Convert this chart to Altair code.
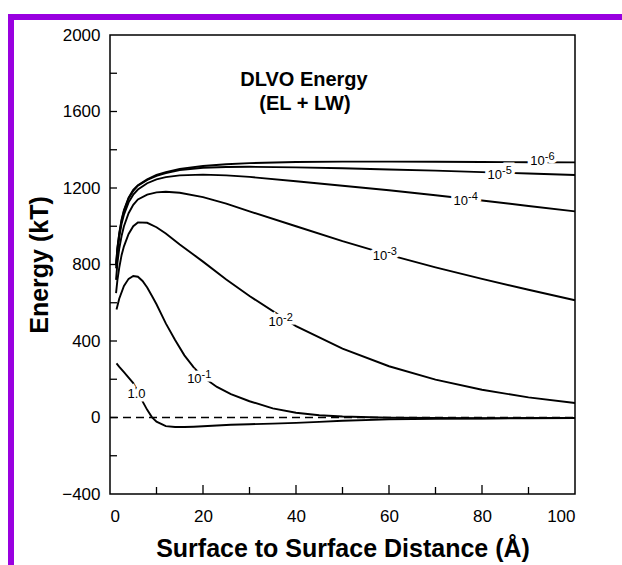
import altair as alt
import pandas as pd

# ---------------- data ----------------
distance_main = [1.3, 1.6, 2, 2.5, 3, 4, 5, 6, 8, 10, 12, 15, 20, 25, 30, 40, 50, 60, 70, 80, 90, 100]
energy_1e6 = [800, 890, 965, 1035, 1085, 1150, 1190, 1215, 1245, 1268, 1283, 1300, 1315, 1324, 1330, 1336, 1338, 1338, 1337, 1336, 1335, 1334]
energy_1e5 = [795, 885, 960, 1030, 1080, 1145, 1185, 1212, 1242, 1264, 1278, 1294, 1306, 1310, 1311, 1308, 1303, 1297, 1291, 1283, 1276, 1268]
energy_1e4 = [780, 870, 945, 1015, 1060, 1125, 1165, 1192, 1225, 1245, 1257, 1266, 1270, 1266, 1258, 1235, 1212, 1188, 1162, 1135, 1106, 1078]
energy_1e3 = [720, 810, 885, 950, 1000, 1068, 1112, 1140, 1165, 1177, 1180, 1175, 1152, 1118, 1078, 1000, 922, 850, 785, 725, 668, 613]
energy_1e2 = [650, 720, 785, 850, 895, 960, 1000, 1020, 1018, 995, 962, 905, 815, 722, 635, 478, 360, 268, 198, 145, 105, 76]

distance_low = [1.4, 2, 3, 4, 5, 6, 7, 8, 9, 10, 12, 14, 16, 18, 20, 23, 26, 30, 35, 40, 45, 50, 60, 70, 80, 90, 100]
energy_1e1 = [565, 622, 688, 725, 740, 736, 714, 680, 637, 592, 492, 405, 325, 262, 212, 160, 122, 85, 48, 25, 12, 5, -1, -3, -4, -3, -2]
energy_1 = [283, 265, 237, 208, 180, 136, 84, 40, 2, -22, -45, -50, -50, -48, -46, -42, -38, -35, -32, -28, -23, -17, -10, -7, -5, -4, -3]

label_distance = [93.5, 84.3, 77.0, 59.6, 37.2, 19.7]
label_energy = [1321, 1248, 1112, 824, 476, 180]
label_base = ["10", "10", "10", "10", "10", "10"]
label_exponent = ["-6", "-5", "-4", "-3", "-2", "-1"]
unit_label_distance = [5.7]
unit_label_energy = [102]
unit_label_text = ["1.0"]

y_tick_labels = [-400, 0, 400, 800, 1200, 1600, 2000]
y_tick_marks = [-200, 0, 200, 400, 600, 800, 1000, 1200, 1400, 1600, 1800]
x_tick_labels = [0, 20, 40, 60, 80, 100]
x_major_ticks = [20, 40, 60, 80]
x_minor_ticks = [10, 30, 50, 70, 90]

# ---------------- tables ----------------
rows = []
for name, xs, ys in [("1e-6", distance_main, energy_1e6), ("1e-5", distance_main, energy_1e5),
                     ("1e-4", distance_main, energy_1e4), ("1e-3", distance_main, energy_1e3),
                     ("1e-2", distance_main, energy_1e2), ("1e-1", distance_low, energy_1e1),
                     ("1", distance_low, energy_1)]:
    for xv, yv in zip(xs, ys):
        rows.append({"d": xv, "E": yv, "curve": name})
curves = pd.DataFrame(rows)
labels = pd.DataFrame({"d": label_distance, "E": label_energy, "base": label_base, "exp": label_exponent})
unit_labels = pd.DataFrame({"d": unit_label_distance, "E": unit_label_energy, "t": unit_label_text})
one = pd.DataFrame({"a": [0]})

W, H = 465, 459
FONT = "Liberation Sans"

xscale = alt.Scale(domain=[0, 100], nice=False)
yscale = alt.Scale(domain=[-400, 2000], nice=False)

x_axis = alt.Axis(values=x_tick_labels, format="d", ticks=False, domain=False, grid=False,
                  labelFont=FONT, labelFontSize=17, labelColor="black", labelPadding=14,
                  title="Surface to Surface Distance (Å)", titleFont=FONT, titleFontSize=25,
                  titleFontWeight="bold", titleColor="black", titleX=232.5, titleY=62,
                  titleAlign="center", titleBaseline="alphabetic")
y_axis = alt.Axis(values=y_tick_labels, format="d", ticks=False, domain=False, grid=False,
                  labelFont=FONT, labelFontSize=17, labelColor="black", labelPadding=10,
                  title="Energy (kT)", titleFont=FONT, titleFontSize=25, titleFontWeight="bold",
                  titleColor="black", titleX=-63, titleY=H / 2, titleAngle=270,
                  titleAlign="center", titleBaseline="alphabetic")

lines = alt.Chart(curves).mark_line(color="black", strokeWidth=1.9).encode(
    x=alt.X("d:Q", scale=xscale, axis=x_axis),
    y=alt.Y("E:Q", scale=yscale, axis=y_axis),
    detail="curve:N",
)

zero = alt.Chart(one).mark_rule(color="black", strokeWidth=1.5, strokeDash=[8, 5]).encode(
    y=alt.datum(0), x=alt.value(0), x2=alt.value(W))

yt = alt.Chart(pd.DataFrame({"v": y_tick_marks})).mark_rule(color="black", strokeWidth=1.3).encode(
    y=alt.Y("v:Q", scale=yscale), x=alt.value(0), x2=alt.value(7))
xt_major = alt.Chart(pd.DataFrame({"v": x_major_ticks})).mark_rule(color="black", strokeWidth=1.3).encode(
    x=alt.X("v:Q", scale=xscale), y=alt.value(H), y2=alt.value(H - 9))
xt_minor = alt.Chart(pd.DataFrame({"v": x_minor_ticks})).mark_rule(color="black", strokeWidth=1.3).encode(
    x=alt.X("v:Q", scale=xscale), y=alt.value(H), y2=alt.value(H - 7))

def halo(chart_df, field, align, dy=0, size=13):
    return alt.Chart(chart_df).mark_text(font=FONT, fontSize=size, align=align, baseline="alphabetic",
                                         dy=dy, color="white", stroke="white", strokeWidth=7).encode(
        x=alt.X("d:Q", scale=xscale), y=alt.Y("E:Q", scale=yscale), text=f"{field}:N")

def txt(chart_df, field, align, dy=0, size=13):
    return alt.Chart(chart_df).mark_text(font=FONT, fontSize=size, align=align, baseline="alphabetic",
                                         dy=dy, color="black").encode(
        x=alt.X("d:Q", scale=xscale), y=alt.Y("E:Q", scale=yscale), text=f"{field}:N")

title1 = alt.Chart(one).mark_text(text="DLVO Energy", font=FONT, fontSize=20, fontWeight="bold",
                                  align="center", baseline="alphabetic", color="black").encode(
    x=alt.value(194), y=alt.value(51))
title2 = alt.Chart(one).mark_text(text="(EL + LW)", font=FONT, fontSize=20, fontWeight="bold",
                                  align="center", baseline="alphabetic", color="black").encode(
    x=alt.value(195), y=alt.value(75))

PURPLE = "#9900E0"
bar_top = alt.Chart(one).mark_rect(color=PURPLE).encode(
    x=alt.value(-102), x2=alt.value(512), y=alt.value(-21), y2=alt.value(-15))
bar_left = alt.Chart(one).mark_rect(color=PURPLE).encode(
    x=alt.value(-102), x2=alt.value(-96), y=alt.value(-21), y2=alt.value(530))

chart = alt.layer(
    bar_top, bar_left, zero, lines, yt, xt_major, xt_minor,
    halo(labels, "base", "right"), halo(labels, "exp", "left", dy=-5, size=11),
    halo(unit_labels, "t", "center"),
    txt(labels, "base", "right"), txt(labels, "exp", "left", dy=-5, size=11),
    txt(unit_labels, "t", "center"),
    title1, title2,
).properties(
    width=W, height=H,
    autosize=alt.AutoSizeParams(type="none"),
    padding={"left": 110, "top": 35, "right": 47, "bottom": 71},
    background="white",
).configure_view(stroke="black", strokeWidth=1.5)

chart.save("out.html", embed_options={"renderer": "svg", "actions": False})
